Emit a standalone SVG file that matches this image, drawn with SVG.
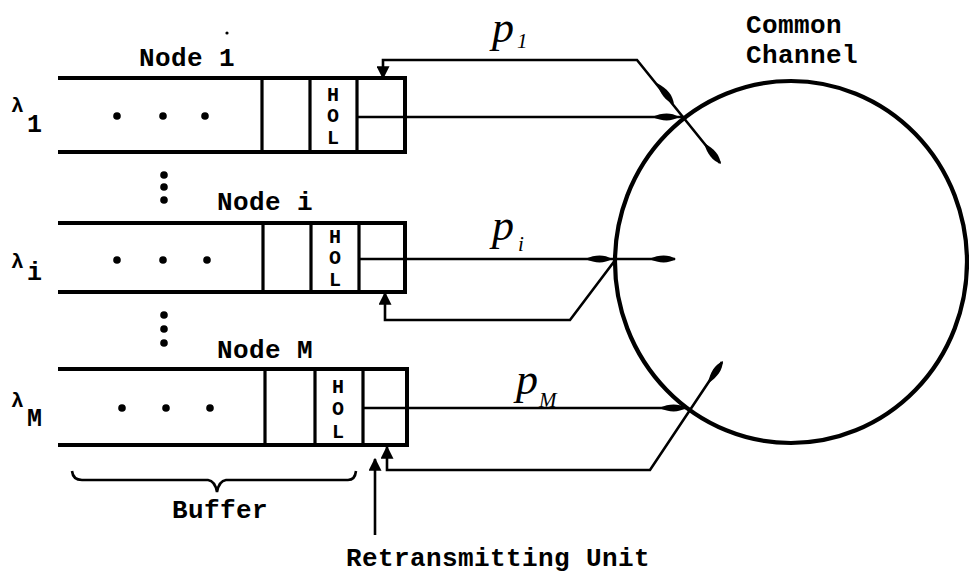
<svg xmlns="http://www.w3.org/2000/svg" width="969" height="575" viewBox="0 0 969 575">
<defs>
<style>
.t{font-family:"Liberation Mono","DejaVu Sans Mono",monospace;font-weight:bold;font-size:26px;letter-spacing:0.4px;fill:#000}
.hol{font-family:"Liberation Mono","DejaVu Sans Mono",monospace;font-weight:bold;font-size:20px;fill:#000;text-anchor:middle}
.lam{font-family:"Liberation Mono","DejaVu Sans Mono",monospace;font-weight:bold;font-size:21px;fill:#000}
.sub{font-family:"Liberation Mono","DejaVu Sans Mono",monospace;font-weight:bold;font-size:25px;fill:#000}
.p{font-family:"Liberation Serif","DejaVu Serif",serif;font-style:italic;font-size:44px;fill:#000}
.ps{font-family:"Liberation Serif","DejaVu Serif",serif;font-style:italic;font-size:21px;fill:#000}
.buf{fill:none;stroke:#000;stroke-width:4;stroke-linecap:square}
.cell{fill:none;stroke:#000;stroke-width:3.2}
.con{fill:none;stroke:#000;stroke-width:2.6}
.dot{fill:#000}
</style>
<marker id="ah" viewBox="0 0 10 10" refX="9" refY="5" markerWidth="5" markerHeight="5" orient="auto" markerUnits="strokeWidth">
<path d="M0,0 L10,5 L0,10 Z" fill="#000"/>
</marker>
<path id="tear" d="M0,0 C-8,-4.6 -16,-4.6 -27,0 C-16,4.6 -8,4.6 0,0 Z" fill="#000"/>
</defs>

<g id="channel">
<ellipse cx="791" cy="262" rx="176" ry="181" fill="none" stroke="#000" stroke-width="4.2"/>
<text class="t" x="746" y="33">Common</text>
<text class="t" x="746" y="63">Channel</text>
</g>

<g id="node1">
<text class="t" x="139" y="66">Node 1</text>
<path class="buf" d="M60,78 H405 V152 H60"/>
<path class="cell" d="M262,78 V152 M310,78 V152 M357,78 V152"/>
<text class="hol" x="333" y="101">H</text>
<text class="hol" x="333" y="122">O</text>
<text class="hol" x="333" y="144">L</text>
<circle class="dot" cx="117" cy="116" r="3.8"/>
<circle class="dot" cx="163" cy="116" r="3.8"/>
<circle class="dot" cx="205" cy="116" r="3.8"/>
<text class="lam" x="11" y="112">λ</text>
<text class="sub" x="27" y="132">1</text>
</g>

<g id="nodei">
<text class="t" x="217" y="210">Node i</text>
<path class="buf" d="M60,223 H405 V292 H60"/>
<path class="cell" d="M263,223 V292 M311,223 V292 M359,223 V292"/>
<text class="hol" x="335" y="243">H</text>
<text class="hol" x="335" y="264">O</text>
<text class="hol" x="335" y="286">L</text>
<circle class="dot" cx="117" cy="260" r="3.8"/>
<circle class="dot" cx="163" cy="260" r="3.8"/>
<circle class="dot" cx="207" cy="260" r="3.8"/>
<text class="lam" x="11" y="268">λ</text>
<text class="sub" x="27" y="280">i</text>
</g>

<g id="nodeM">
<text class="t" x="217" y="358">Node M</text>
<path class="buf" d="M60,369 H407 V445 H60"/>
<path class="cell" d="M265,369 V445 M315,369 V445 M363,369 V445"/>
<text class="hol" x="338" y="393">H</text>
<text class="hol" x="338" y="415">O</text>
<text class="hol" x="338" y="438">L</text>
<circle class="dot" cx="122" cy="408" r="3.8"/>
<circle class="dot" cx="166" cy="408" r="3.8"/>
<circle class="dot" cx="210" cy="408" r="3.8"/>
<text class="lam" x="11" y="407">λ</text>
<text class="sub" x="27" y="426">M</text>
</g>

<g id="ellipsis">
<circle class="dot" cx="164" cy="175" r="3.8"/>
<circle class="dot" cx="164" cy="187" r="3.8"/>
<circle class="dot" cx="164" cy="200" r="3.8"/>
<circle class="dot" cx="164" cy="315" r="3.8"/>
<circle class="dot" cx="164" cy="329" r="3.8"/>
<circle class="dot" cx="164" cy="343" r="3.8"/>
<circle class="dot" cx="227" cy="33" r="1.6"/>
</g>

<g id="buffer-label">
<path class="con" d="M72,471 Q73,480 82,480 H208 Q215,481 217,492 Q219,481 226,480 H348 Q355,480 356,471"/>
<text class="t" x="172" y="518">Buffer</text>
</g>

<g id="retransmit-label">
<line class="con" x1="375" y1="535" x2="375" y2="459" marker-end="url(#ah)"/>
<text class="t" x="346" y="566">Retransmitting Unit</text>
</g>

<g id="connectors">
<line class="con" x1="357" y1="117" x2="684" y2="117"/>
<path class="con" d="M720,163 L637,60 H383 V78" marker-end="url(#ah)"/>
<use href="#tear" transform="translate(679,117)"/>
<use href="#tear" transform="translate(674,104) rotate(51)"/>
<use href="#tear" transform="translate(721,164) rotate(51)"/>

<line class="con" x1="359" y1="259" x2="675" y2="259"/>
<path class="con" d="M616,259 L570,320 H385 V293" marker-end="url(#ah)"/>
<use href="#tear" transform="translate(612,259)"/>
<use href="#tear" transform="translate(676,259)"/>

<line class="con" x1="363" y1="408" x2="688" y2="408"/>
<path class="con" d="M722,362 L650,470 H387 V447" marker-end="url(#ah)"/>
<use href="#tear" transform="translate(686,408)"/>
<use href="#tear" transform="translate(723,361) rotate(-56)"/>
</g>

<g id="labels">
<text class="p" x="492" y="42">p</text>
<text class="ps" x="517" y="48">1</text>
<text class="p" x="492" y="240">p</text>
<text class="ps" x="518" y="251">i</text>
<text class="p" x="516" y="394">p</text>
<text class="ps" x="539" y="407">M</text>
</g>
</svg>
